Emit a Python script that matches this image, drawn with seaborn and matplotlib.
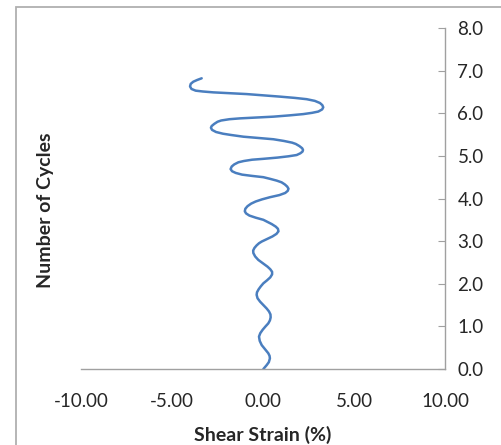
import matplotlib
matplotlib.use("Agg")
import matplotlib.pyplot as plt
import seaborn as sns
import pandas as pd
from matplotlib.patches import Rectangle

# Data (number of cycles, shear strain %)
cycles = [0.00, 0.05, 0.09, 0.16, 0.25, 0.31, 0.37, 0.46, 0.56, 0.66,
          0.76, 0.84, 0.92, 1.00, 1.07, 1.14, 1.21, 1.28, 1.35, 1.42,
          1.50, 1.58, 1.66, 1.74, 1.80, 1.87, 1.94, 2.01, 2.08, 2.15,
          2.22, 2.28, 2.34, 2.40, 2.48, 2.56, 2.64, 2.72, 2.78, 2.84,
          2.90, 2.95, 2.99, 3.05, 3.11, 3.17, 3.23, 3.29, 3.34, 3.40,
          3.45, 3.50, 3.55, 3.60, 3.65, 3.70, 3.76, 3.82, 3.88, 3.93,
          3.98, 4.03, 4.08, 4.13, 4.18, 4.23, 4.28, 4.33, 4.38, 4.42,
          4.46, 4.50, 4.53, 4.56, 4.60, 4.64, 4.69, 4.75, 4.80, 4.85,
          4.88, 4.91, 4.93, 4.96, 4.99, 5.02, 5.06, 5.10, 5.14, 5.18,
          5.23, 5.28, 5.31, 5.35, 5.39, 5.42, 5.45, 5.49, 5.52, 5.56,
          5.61, 5.66, 5.70, 5.75, 5.80, 5.83, 5.86, 5.88, 5.90, 5.92,
          5.95, 5.98, 6.01, 6.04, 6.09, 6.14, 6.19, 6.24, 6.29, 6.33,
          6.36, 6.39, 6.42, 6.45, 6.47, 6.49, 6.51, 6.53, 6.57, 6.63,
          6.69, 6.74, 6.78, 6.82]
strain = [0.02, 0.12, 0.20, 0.32, 0.38, 0.36, 0.29, 0.12, -0.07, -0.18,
          -0.22, -0.15, -0.02, 0.14, 0.29, 0.38, 0.42, 0.41, 0.33, 0.20,
          0.02, -0.16, -0.30, -0.35, -0.33, -0.24, -0.12, 0.02, 0.22, 0.40,
          0.50, 0.50, 0.40, 0.25, 0.00, -0.26, -0.43, -0.53, -0.54, -0.47,
          -0.35, -0.22, -0.07, 0.22, 0.52, 0.74, 0.85, 0.82, 0.70, 0.48,
          0.25, 0.02, -0.40, -0.75, -0.93, -1.00, -0.97, -0.85, -0.65, -0.40,
          -0.05, 0.38, 0.90, 1.22, 1.36, 1.40, 1.33, 1.20, 1.02, 0.75,
          0.40, 0.02, -0.60, -1.15, -1.50, -1.70, -1.78, -1.72, -1.58, -1.35,
          -1.05, -0.60, 0.00, 0.80, 1.40, 1.85, 2.05, 2.17, 2.20, 2.15,
          2.00, 1.80, 1.60, 1.15, 0.57, -0.25, -1.08, -1.75, -2.20, -2.58,
          -2.80, -2.86, -2.82, -2.68, -2.50, -2.30, -1.85, -1.26, -0.35, 0.57,
          1.45, 2.21, 2.70, 3.04, 3.25, 3.31, 3.26, 3.13, 2.85, 2.40,
          1.75, 0.93, 0.00, -0.90, -1.85, -2.73, -3.30, -3.70, -3.93, -4.01,
          -3.97, -3.83, -3.62, -3.37]

x_ticks = [-10, -5, 0, 5, 10]
y_ticks = [0, 1, 2, 3, 4, 5, 6, 7, 8]

df = pd.DataFrame({"strain": strain, "cycles": cycles})

sns.set_style("white")
plt.rcParams["font.family"] = ["Lato", "DejaVu Sans"]

fig = plt.figure(figsize=(5.01, 4.45), dpi=100)
ax = fig.add_axes([81 / 501, 1 - 369 / 445, (445 - 81) / 501, (369 - 28) / 445])

sns.lineplot(data=df, x="strain", y="cycles", sort=False, estimator=None,
             color="#4a7ebf", linewidth=1.8, ax=ax)
for ln in ax.lines:
    ln.set_solid_joinstyle("round")
    ln.set_solid_capstyle("round")

ax.set_xlim(-10, 10)
ax.set_ylim(0, 8)
ax.set_xticks(x_ticks)
ax.set_xticklabels([f"{v:.2f}" for v in x_ticks])
ax.set_yticks(y_ticks)
ax.set_yticklabels([f"{v:.1f}" for v in y_ticks])

axis_color = "#a0a0a0"
for s in ["left", "top"]:
    ax.spines[s].set_visible(False)
for s in ["right", "bottom"]:
    ax.spines[s].set_visible(True)
    ax.spines[s].set_color(axis_color)
    ax.spines[s].set_linewidth(1.0)

ax.yaxis.tick_right()
ax.tick_params(axis="y", which="both", direction="in", length=5, color=axis_color,
               labelsize=13.5, labelcolor="#262626", pad=9, left=False, right=True)
ax.tick_params(axis="x", which="both", direction="in", length=5, color=axis_color,
               labelsize=13.5, labelcolor="#262626", pad=17)

ax.set_xlabel("Shear Strain (%)", fontsize=14, fontweight="bold", color="#262626", labelpad=12)
ax.set_ylabel("")
fig.text(46 / 501, 1 - 210 / 445, "Number of Cycles", rotation=90, fontsize=14,
         fontweight="bold", color="#262626", ha="center", va="center")

# outer chart-area frame (extends beyond right/bottom edges as in the reference)
fig.patches.append(Rectangle((16 / 501, -0.1), 1.2, 1.1 - 7 / 445, transform=fig.transFigure,
                             fill=False, edgecolor="#b0b0b0", linewidth=1.3, zorder=0))

fig.savefig("out.png", dpi=100)
